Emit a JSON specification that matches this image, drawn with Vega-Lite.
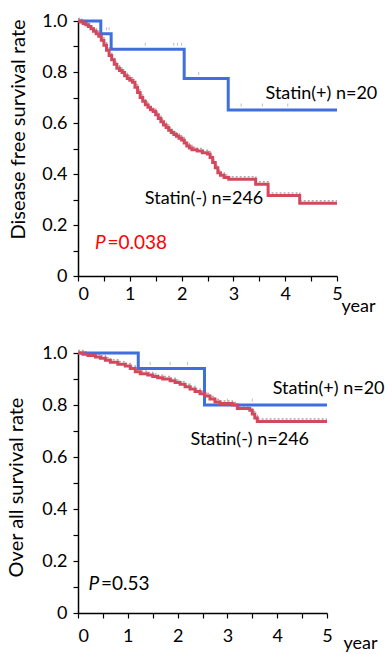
{
  "$schema": "https://vega.github.io/schema/vega-lite/v6.json",
  "padding": {"left": 5, "top": 12, "right": 0, "bottom": 0},
  "background": "white",
  "config": {
    "font": "Lato",
    "view": {"stroke": null},
    "axis": {
      "grid": false,
      "domainColor": "#000",
      "domainWidth": 1.5,
      "tickColor": "#000",
      "tickWidth": 1.2,
      "tickSize": 5,
      "labelColor": "#000",
      "titleColor": "#000",
      "labelFont": "Lato",
      "titleFont": "Lato",
      "labelFontSize": 18,
      "titleFontSize": 20,
      "titleFontWeight": "normal",
      "labelFlush": false
    }
  },
  "datasets": {
    "dfs": [
      {"series": "Statin(+)", "t": 0, "s": 1.0},
      {"series": "Statin(+)", "t": 0.44, "s": 0.95},
      {"series": "Statin(+)", "t": 0.64, "s": 0.889},
      {"series": "Statin(+)", "t": 2.05, "s": 0.775},
      {"series": "Statin(+)", "t": 2.9, "s": 0.651},
      {"series": "Statin(+)", "t": 5.0, "s": 0.651},
      {"series": "Statin(-)", "t": 0, "s": 1.0},
      {"series": "Statin(-)", "t": 0.05, "s": 0.996},
      {"series": "Statin(-)", "t": 0.1, "s": 0.99},
      {"series": "Statin(-)", "t": 0.15, "s": 0.985},
      {"series": "Statin(-)", "t": 0.2, "s": 0.978},
      {"series": "Statin(-)", "t": 0.25, "s": 0.97},
      {"series": "Statin(-)", "t": 0.3, "s": 0.96},
      {"series": "Statin(-)", "t": 0.35, "s": 0.95},
      {"series": "Statin(-)", "t": 0.4, "s": 0.94},
      {"series": "Statin(-)", "t": 0.45, "s": 0.925},
      {"series": "Statin(-)", "t": 0.5, "s": 0.905},
      {"series": "Statin(-)", "t": 0.55, "s": 0.885},
      {"series": "Statin(-)", "t": 0.6, "s": 0.865},
      {"series": "Statin(-)", "t": 0.65, "s": 0.848},
      {"series": "Statin(-)", "t": 0.7, "s": 0.83},
      {"series": "Statin(-)", "t": 0.75, "s": 0.815},
      {"series": "Statin(-)", "t": 0.8, "s": 0.806},
      {"series": "Statin(-)", "t": 0.85, "s": 0.798},
      {"series": "Statin(-)", "t": 0.9, "s": 0.785},
      {"series": "Statin(-)", "t": 0.95, "s": 0.775},
      {"series": "Statin(-)", "t": 1.0, "s": 0.768},
      {"series": "Statin(-)", "t": 1.05, "s": 0.76},
      {"series": "Statin(-)", "t": 1.1, "s": 0.74},
      {"series": "Statin(-)", "t": 1.15, "s": 0.72},
      {"series": "Statin(-)", "t": 1.2, "s": 0.7},
      {"series": "Statin(-)", "t": 1.25, "s": 0.685},
      {"series": "Statin(-)", "t": 1.3, "s": 0.672},
      {"series": "Statin(-)", "t": 1.35, "s": 0.662},
      {"series": "Statin(-)", "t": 1.4, "s": 0.652},
      {"series": "Statin(-)", "t": 1.45, "s": 0.645},
      {"series": "Statin(-)", "t": 1.5, "s": 0.632},
      {"series": "Statin(-)", "t": 1.55, "s": 0.618},
      {"series": "Statin(-)", "t": 1.6, "s": 0.605},
      {"series": "Statin(-)", "t": 1.65, "s": 0.592},
      {"series": "Statin(-)", "t": 1.7, "s": 0.582},
      {"series": "Statin(-)", "t": 1.75, "s": 0.572},
      {"series": "Statin(-)", "t": 1.8, "s": 0.563},
      {"series": "Statin(-)", "t": 1.85, "s": 0.555},
      {"series": "Statin(-)", "t": 1.9, "s": 0.548},
      {"series": "Statin(-)", "t": 1.95, "s": 0.54},
      {"series": "Statin(-)", "t": 2.0, "s": 0.533},
      {"series": "Statin(-)", "t": 2.05, "s": 0.522},
      {"series": "Statin(-)", "t": 2.1, "s": 0.51},
      {"series": "Statin(-)", "t": 2.15, "s": 0.502},
      {"series": "Statin(-)", "t": 2.2, "s": 0.495},
      {"series": "Statin(-)", "t": 2.3, "s": 0.49},
      {"series": "Statin(-)", "t": 2.4, "s": 0.483},
      {"series": "Statin(-)", "t": 2.5, "s": 0.478},
      {"series": "Statin(-)", "t": 2.55, "s": 0.465},
      {"series": "Statin(-)", "t": 2.6, "s": 0.445},
      {"series": "Statin(-)", "t": 2.65, "s": 0.425},
      {"series": "Statin(-)", "t": 2.7, "s": 0.405},
      {"series": "Statin(-)", "t": 2.75, "s": 0.395},
      {"series": "Statin(-)", "t": 2.82, "s": 0.386},
      {"series": "Statin(-)", "t": 2.91, "s": 0.379},
      {"series": "Statin(-)", "t": 3.43, "s": 0.36},
      {"series": "Statin(-)", "t": 3.67, "s": 0.316},
      {"series": "Statin(-)", "t": 4.28, "s": 0.285},
      {"series": "Statin(-)", "t": 5.0, "s": 0.285}
    ],
    "os": [
      {"series": "Statin(+)", "t": 0, "s": 1.0},
      {"series": "Statin(+)", "t": 1.21, "s": 0.94},
      {"series": "Statin(+)", "t": 2.54, "s": 0.8},
      {"series": "Statin(+)", "t": 5.0, "s": 0.8},
      {"series": "Statin(-)", "t": 0, "s": 1.0},
      {"series": "Statin(-)", "t": 0.1, "s": 0.995},
      {"series": "Statin(-)", "t": 0.2, "s": 0.99},
      {"series": "Statin(-)", "t": 0.35, "s": 0.985},
      {"series": "Statin(-)", "t": 0.45, "s": 0.98},
      {"series": "Statin(-)", "t": 0.55, "s": 0.972},
      {"series": "Statin(-)", "t": 0.65, "s": 0.964},
      {"series": "Statin(-)", "t": 0.8, "s": 0.957},
      {"series": "Statin(-)", "t": 0.95, "s": 0.95},
      {"series": "Statin(-)", "t": 1.05, "s": 0.94},
      {"series": "Statin(-)", "t": 1.15, "s": 0.928},
      {"series": "Statin(-)", "t": 1.25, "s": 0.92},
      {"series": "Statin(-)", "t": 1.4, "s": 0.915},
      {"series": "Statin(-)", "t": 1.5, "s": 0.91},
      {"series": "Statin(-)", "t": 1.6, "s": 0.905},
      {"series": "Statin(-)", "t": 1.7, "s": 0.9},
      {"series": "Statin(-)", "t": 1.85, "s": 0.893},
      {"series": "Statin(-)", "t": 1.95, "s": 0.887},
      {"series": "Statin(-)", "t": 2.05, "s": 0.88},
      {"series": "Statin(-)", "t": 2.15, "s": 0.87},
      {"series": "Statin(-)", "t": 2.25, "s": 0.862},
      {"series": "Statin(-)", "t": 2.35, "s": 0.852},
      {"series": "Statin(-)", "t": 2.45, "s": 0.843},
      {"series": "Statin(-)", "t": 2.55, "s": 0.835},
      {"series": "Statin(-)", "t": 2.65, "s": 0.823},
      {"series": "Statin(-)", "t": 2.75, "s": 0.812},
      {"series": "Statin(-)", "t": 2.85, "s": 0.806},
      {"series": "Statin(-)", "t": 3.1, "s": 0.8},
      {"series": "Statin(-)", "t": 3.2, "s": 0.787},
      {"series": "Statin(-)", "t": 3.45, "s": 0.78},
      {"series": "Statin(-)", "t": 3.5, "s": 0.765},
      {"series": "Statin(-)", "t": 3.55, "s": 0.75},
      {"series": "Statin(-)", "t": 3.6, "s": 0.737},
      {"series": "Statin(-)", "t": 5.0, "s": 0.737}
    ],
    "dfs_cens": [
      {"t": 0.55, "s": 0.95}, {"t": 0.6, "s": 0.95},
      {"t": 1.3, "s": 0.889}, {"t": 1.85, "s": 0.889}, {"t": 1.92, "s": 0.889}, {"t": 2.0, "s": 0.889},
      {"t": 2.33, "s": 0.775},
      {"t": 3.15, "s": 0.651}, {"t": 3.56, "s": 0.651}, {"t": 4.05, "s": 0.651}
    ],
    "os_cens": [
      {"t": 1.45, "s": 0.94}, {"t": 1.85, "s": 0.94}, {"t": 2.2, "s": 0.94},
      {"t": 3.0, "s": 0.8}, {"t": 3.5, "s": 0.8}
    ],
    "dfs_text": [
      {"t": 3.62, "s": 0.695, "label": "Statin(+) n=20"},
      {"t": 1.29, "s": 0.282, "label": "Statin(-) n=246"}
    ],
    "os_text": [
      {"t": 3.91, "s": 0.843, "label": "Statin(+) n=20"},
      {"t": 2.26, "s": 0.648, "label": "Statin(-) n=246"}
    ],
    "dfs_p": [{"t": 0.33, "t2": 0.57, "s": 0.105}],
    "os_p": [{"t": 0.21, "t2": 0.46, "s": 0.09}]
  },
  "spacing": 29,
  "vconcat": [
    {
      "width": 259,
      "height": 255,
      "encoding": {
        "x": {"field": "t", "type": "quantitative", "scale": {"domain": [0, 5], "nice": false},
          "axis": {
            "values": [0, 0.5, 1, 1.5, 2, 2.5, 3, 3.5, 4, 4.5, 5],
            "labelExpr": "datum.value % 1 == 0 ? format(datum.value, 'd') : ''",
            "labelAlign": {"condition": {"test": "datum.value == 0", "value": "left"}, "value": "center"},
            "labelPadding": 4,
            "title": "year", "titleFontSize": 18,
            "titleAnchor": null, "titleAlign": "left", "titleBaseline": "alphabetic",
            "titleX": 263, "titleY": 35
          }},
        "y": {"field": "s", "type": "quantitative", "scale": {"domain": [0, 1], "nice": false},
          "axis": {
            "values": [0, 0.1, 0.2, 0.3, 0.4, 0.5, 0.6, 0.7, 0.8, 0.9, 1.0],
            "labelExpr": "datum.value == 0 ? '0' : (round(datum.value * 10) % 2 == 0 ? format(datum.value, '.1f') : '')",
            "labelPadding": 6,
            "title": "Disease free survival rate",
            "titleAnchor": null, "titleAlign": "center", "titleBaseline": "middle", "titleAngle": -90,
            "titleX": -60, "titleY": 108
          }}
      },
      "layer": [
        {"data": {"name": "dfs"}, "transform": [{"filter": "datum.series == 'Statin(-)'"}],
          "mark": {"type": "line", "interpolate": "step-after", "color": "#a8a8a8", "strokeWidth": 1.5, "strokeDash": [2, 2], "yOffset": -2.5}},
        {"data": {"name": "dfs_cens"},
          "mark": {"type": "tick", "orient": "vertical", "size": 3, "thickness": 1, "color": "#a0a0a0", "yOffset": -5}},
        {"data": {"name": "dfs"},
          "mark": {"type": "line", "interpolate": "step-after", "strokeWidth": 3},
          "encoding": {"color": {"field": "series", "type": "nominal", "scale": {"domain": ["Statin(+)", "Statin(-)"], "range": ["#3f6fdc", "#d4485e"]}, "legend": null}}},
        {"data": {"name": "dfs_text"},
          "mark": {"type": "text", "align": "left", "baseline": "alphabetic", "fontSize": 18, "color": "#000"},
          "encoding": {"text": {"field": "label"}}},
        {"data": {"name": "dfs_p"},
          "mark": {"type": "text", "align": "left", "baseline": "alphabetic", "fontSize": 19, "fontStyle": "italic", "color": "#ff0000"},
          "encoding": {"text": {"value": "P"}}},
        {"data": {"name": "dfs_p"},
          "mark": {"type": "text", "align": "left", "baseline": "alphabetic", "fontSize": 19, "color": "#ff0000"},
          "encoding": {"x": {"field": "t2", "type": "quantitative"}, "text": {"value": "=0.038"}}}
      ]
    },
    {
      "width": 249,
      "height": 260,
      "encoding": {
        "x": {"field": "t", "type": "quantitative", "scale": {"domain": [0, 5], "nice": false},
          "axis": {
            "values": [0, 0.5, 1, 1.5, 2, 2.5, 3, 3.5, 4, 4.5, 5],
            "labelExpr": "datum.value % 1 == 0 ? format(datum.value, 'd') : ''",
            "labelAlign": {"condition": {"test": "datum.value == 0", "value": "left"}, "value": "center"},
            "labelPadding": 9,
            "title": "year", "titleFontSize": 18,
            "titleAnchor": null, "titleAlign": "left", "titleBaseline": "alphabetic",
            "titleX": 265, "titleY": 35
          }},
        "y": {"field": "s", "type": "quantitative", "scale": {"domain": [0, 1], "nice": false},
          "axis": {
            "values": [0, 0.1, 0.2, 0.3, 0.4, 0.5, 0.6, 0.7, 0.8, 0.9, 1.0],
            "labelExpr": "datum.value == 0 ? '0' : (round(datum.value * 10) % 2 == 0 ? format(datum.value, '.1f') : '')",
            "labelPadding": 6,
            "title": "Over all survival rate",
            "titleAnchor": null, "titleAlign": "center", "titleBaseline": "middle", "titleAngle": -90,
            "titleX": -62, "titleY": 134
          }}
      },
      "layer": [
        {"data": {"name": "os"}, "transform": [{"filter": "datum.series == 'Statin(-)'"}],
          "mark": {"type": "line", "interpolate": "step-after", "color": "#a8a8a8", "strokeWidth": 1.5, "strokeDash": [2, 2], "yOffset": -2.5}},
        {"data": {"name": "os_cens"},
          "mark": {"type": "tick", "orient": "vertical", "size": 3, "thickness": 1, "color": "#a0a0a0", "yOffset": -5}},
        {"data": {"name": "os"},
          "mark": {"type": "line", "interpolate": "step-after", "strokeWidth": 3},
          "encoding": {"color": {"field": "series", "type": "nominal", "scale": {"domain": ["Statin(+)", "Statin(-)"], "range": ["#3f6fdc", "#d4485e"]}, "legend": null}}},
        {"data": {"name": "os_text"},
          "mark": {"type": "text", "align": "left", "baseline": "alphabetic", "fontSize": 18, "color": "#000"},
          "encoding": {"text": {"field": "label"}}},
        {"data": {"name": "os_p"},
          "mark": {"type": "text", "align": "left", "baseline": "alphabetic", "fontSize": 19, "fontStyle": "italic", "color": "#000"},
          "encoding": {"text": {"value": "P"}}},
        {"data": {"name": "os_p"},
          "mark": {"type": "text", "align": "left", "baseline": "alphabetic", "fontSize": 19, "color": "#000"},
          "encoding": {"x": {"field": "t2", "type": "quantitative"}, "text": {"value": "=0.53"}}}
      ]
    }
  ]
}
